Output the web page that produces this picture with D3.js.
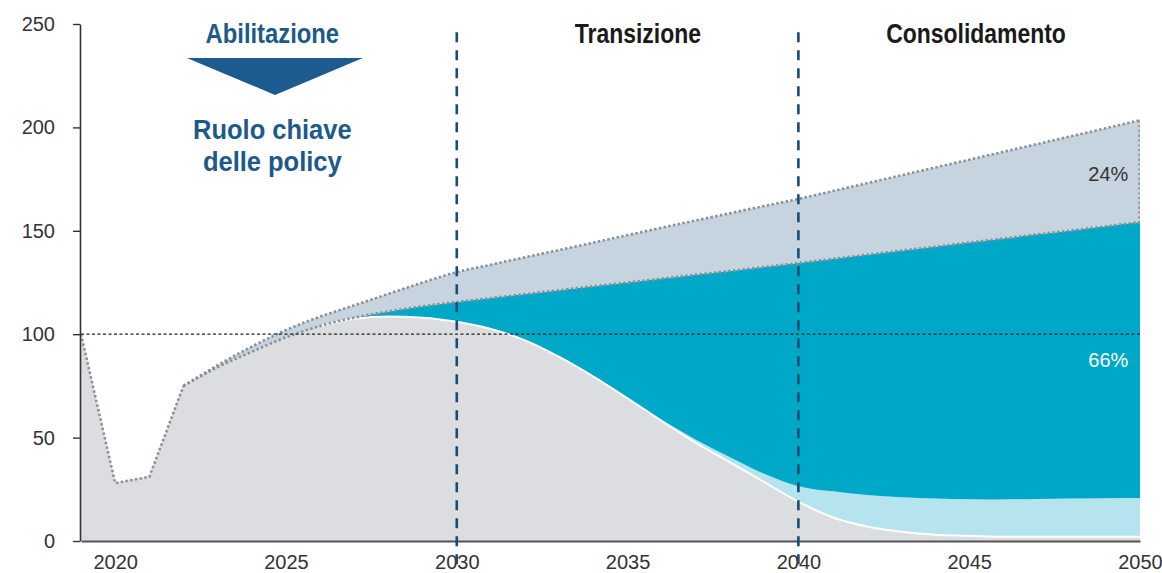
<!DOCTYPE html>
<html>
<head>
<meta charset="utf-8">
<script src="https://cdn.jsdelivr.net/npm/d3@7"></script>
<style>
  body { margin: 0; background: #fff; }
  svg { display: block; }
</style>
</head>
<body>
<svg id="chart" width="1162" height="573"></svg>
<script>
// Years on the horizontal axis
const years = [2019, 2020, 2021, 2022, 2023, 2024, 2025, 2026, 2027, 2028,
  2029, 2030, 2031, 2032, 2033, 2034, 2035, 2036, 2037, 2038, 2039, 2040,
  2041, 2042, 2043, 2044, 2045, 2046, 2047, 2048, 2049, 2050];

// Stacked components (index, 2019 = 100)
const residual = [100, 28, 31, 75, 84, 91.5, 98.5, 104, 107.5, 108.5,
  108, 106, 102.5, 97, 89, 79.5, 69, 58, 47.5, 38, 28.5, 19,
  11.5, 7, 4.5, 3, 2.5, 2, 2, 2, 2, 2];
const lightShare = [0, 0, 0, 0, 0, 0, 0, 0, 0, 0,
  0, 0, 0, 0, 0, 0, 0, 0.5, 1.5, 2.5, 4, 7.5,
  12.5, 15.3, 16.7, 17.5, 17.7, 18.1, 18.3, 18.5, 18.7, 18.8];
const tealShare = [0, 0, 0, 0, 0, 0, 0, 0, 0.5, 2.5,
  5.5, 9.6, 15, 22.4, 32.3, 43.7, 56, 68.4, 79.8, 90.1, 100, 107.9,
  112.4, 116.1, 119.2, 121.8, 124.1, 126.2, 128, 129.7, 131.5, 133.4];
const upperShare = [0, 0, 0, 0, 1, 2.5, 3.5, 4.5, 6, 8.5,
  11.5, 14.4, 16.1, 17.8, 19.4, 21.1, 22.9, 24.6, 26.2, 27.9, 29.5, 31,
  32.8, 34.6, 36.4, 38.3, 40.1, 41.9, 43.7, 45.6, 47.4, 49.3];

const yTicks = [0, 50, 100, 150, 200, 250];
const xTicks = [2020, 2025, 2030, 2035, 2040, 2045, 2050];
const phaseDividers = [2030, 2040];
const phaseLabels = [
  { text: "Transizione", year: 2035.3 },
  { text: "Consolidamento", year: 2045.2 }
];
const shareLabels = [
  { text: "24%", value: 174, color: "#333" },
  { text: "66%", value: 84, color: "#ffffff" }
];

const svg = d3.select("#chart");
const x = d3.scaleLinear().domain([2019, 2050]).range([81, 1140]);
const y = d3.scaleLinear().domain([0, 250]).range([541, 24]);

const rows = years.map((yr, i) => ({
  year: yr,
  residual: residual[i],
  light: lightShare[i],
  teal: tealShare[i],
  upper: upperShare[i]
}));
const keys = ["residual", "light", "teal", "upper"];
const fills = { residual: "#dcdde0", light: "#b5e3ee", teal: "#00a8c8", upper: "#c6d4df" };
const series = d3.stack().keys(keys)(rows);

// the 2020-2021 dip is drawn with straight segments, the outlook with smooth curves
const dipEnd = 2022;
const early = pts => pts.filter(d => d.data.year <= dipEnd);
const later = pts => pts.filter(d => d.data.year >= dipEnd);

const areaLinear = d3.area()
  .x(d => x(d.data.year)).y0(d => y(d[0])).y1(d => y(d[1]))
  .curve(d3.curveLinear);
const areaSmooth = d3.area()
  .x(d => x(d.data.year)).y0(d => y(d[0])).y1(d => y(d[1]))
  .curve(d3.curveMonotoneX);

svg.append("path")
  .attr("d", areaLinear(early(series[0])))
  .attr("fill", fills.residual)
  .attr("stroke", fills.residual)
  .attr("stroke-width", 1);

svg.append("g").selectAll("path")
  .data(series)
  .join("path")
  .attr("d", s => areaSmooth(later(s)))
  .attr("fill", s => fills[s.key]);

const lineLinear = d3.line().x(d => x(d.data.year)).y(d => y(d[1])).curve(d3.curveLinear);
const lineSmooth = d3.line().x(d => x(d.data.year)).y(d => y(d[1])).curve(d3.curveMonotoneX);

// white edge along the residual band
svg.append("path")
  .attr("d", lineSmooth(series[0].filter(d => d.data.year >= 2026)))
  .attr("fill", "none")
  .attr("stroke", "#ffffff")
  .attr("stroke-width", 2);

// dotted outlines of the upper band
function dottedPath(d) {
  return svg.append("path")
    .attr("d", d)
    .attr("fill", "none")
    .attr("stroke", "#8b9097")
    .attr("stroke-width", 2.6)
    .attr("stroke-dasharray", "2.4,2.4");
}
dottedPath(lineLinear(early(series[3])));
dottedPath(lineSmooth(later(series[3])));
dottedPath(lineSmooth(later(series[2])));
const last = series[3][series[3].length - 1];
svg.append("line")
  .attr("x1", x(last.data.year) - 1).attr("x2", x(last.data.year) - 1)
  .attr("y1", y(last[1])).attr("y2", y(last[0]))
  .attr("stroke", "#8b9097")
  .attr("stroke-width", 1.6)
  .attr("stroke-dasharray", "2.4,2.4");

// reference level 100
svg.append("line")
  .attr("x1", x(2019)).attr("x2", x(2050))
  .attr("y1", y(100)).attr("y2", y(100))
  .attr("stroke", "#222")
  .attr("stroke-width", 1.2)
  .attr("stroke-dasharray", "3,2.5");

// axes
const yAxis = svg.append("g")
  .attr("transform", `translate(${x(2019) - 1},0)`)
  .call(d3.axisLeft(y).tickValues(yTicks).tickSize(7).tickSizeOuter(0).tickPadding(18));
yAxis.select(".domain").attr("stroke", "#333").attr("stroke-width", 1.6);
yAxis.selectAll(".tick line").attr("stroke", "#333").attr("stroke-width", 1.4);
yAxis.selectAll("text")
  .attr("font-family", "'Liberation Sans', Arial, sans-serif")
  .attr("font-size", 20)
  .attr("fill", "#333");

const xAxis = svg.append("g")
  .attr("transform", `translate(0,${y(0)})`)
  .call(d3.axisBottom(x).tickValues(xTicks).tickFormat(d3.format("d")).tickSize(0).tickSizeOuter(0).tickPadding(14));
xAxis.select(".domain").attr("stroke", "#555").attr("stroke-width", 2);
xAxis.selectAll("text")
  .attr("font-family", "'Liberation Sans', Arial, sans-serif")
  .attr("font-size", 20)
  .attr("fill", "#333");

// phase dividers
svg.append("g").selectAll("line")
  .data(phaseDividers)
  .join("line")
  .attr("x1", d => x(d)).attr("x2", d => x(d))
  .attr("y1", y(246)).attr("y2", 566)
  .attr("stroke", "#1a4c74")
  .attr("stroke-width", 2.6)
  .attr("stroke-dasharray", "10,8");

// condensed bold headings
function heading(text, year, value, size, color, squeeze = 0.85) {
  svg.append("g")
    .attr("transform", `translate(${x(year)},${y(value)}) scale(${squeeze},1)`)
    .append("text")
    .attr("text-anchor", "middle")
    .attr("font-family", "'Liberation Sans', Arial, sans-serif")
    .attr("font-weight", "bold")
    .attr("font-size", size)
    .attr("fill", color)
    .text(text);
}

phaseLabels.forEach(p => heading(p.text, p.year, 241, 27, "#1a1a1a"));

// enabling phase: title, arrow and note
const enableYear = 2024.6;
heading("Abilitazione", enableYear, 241, 28, "#1b5a8a");

svg.append("path")
  .attr("d", d3.line()([
    [x(2022.1), y(233.6)],
    [x(2027.25), y(233.6)],
    [x(2024.68), y(215.7)]
  ]) + "Z")
  .attr("fill", "#1b5b8f");

heading("Ruolo chiave", enableYear, 194.4, 28, "#1b5a8a", 0.91);
heading("delle policy", enableYear, 179, 28, "#1b5a8a", 0.91);

// shares in 2050
svg.append("g").selectAll("text")
  .data(shareLabels)
  .join("text")
  .attr("x", x(2049.66))
  .attr("y", d => y(d.value))
  .attr("text-anchor", "end")
  .attr("font-family", "'Liberation Sans', Arial, sans-serif")
  .attr("font-size", 20)
  .attr("fill", d => d.color)
  .text(d => d.text);
</script>
</body>
</html>
